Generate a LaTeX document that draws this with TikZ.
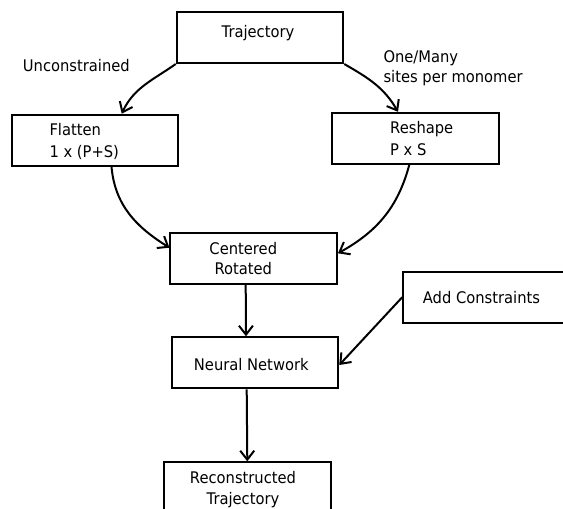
\documentclass[tikz,border=0pt]{standalone}
\usepackage{fontspec}
\setmainfont[FakeStretch=0.92]{DejaVu Sans}
\usetikzlibrary{arrows.meta}

\begin{document}
\begin{tikzpicture}[x=1pt,y=1pt,
  box/.style={draw, line width=2pt, minimum width=166.5pt, minimum height=51pt,
    inner sep=0pt, fill=white},
  txt/.style={font=\fontsize{16}{21}\selectfont, inner sep=0pt},
  link/.style={line width=2pt,
    -{Straight Barb[length=9pt,width=14pt,line width=2pt]}}]

% canvas
\useasboundingbox (0,0) rectangle (563,-509);
\fill[white] (0,0) rectangle (563,-509);
\clip (0,0) rectangle (563,-509);

% boxes
\node[box] (traj)  at (260,-37.5)   {};
\node[box] (flat)  at (95,-140.2)   {};
\node[box] (resh)  at (415.3,-138.3) {};
\node[box] (cent)  at (253.7,-258.7) {};
\node[box] (nn)    at (255,-362.8)  {};
\node[box] (addc)  at (486.5,-297.2) {};
\node[box] (recon) at (247.3,-487.8) {};

% box texts
\node[txt, anchor=base]      (trajT)  at (258,-37.7)   {Trajectory};
\node[txt, anchor=base west] (flatA)  at (49.3,-135.7) {Flatten};
\node[txt, anchor=base west] (flatB)  at (49.3,-157.3) {1 x (P+S)};
\node[txt, anchor=base west] (reshA)  at (390,-133.3)  {Reshape};
\node[txt, anchor=base west] (reshB)  at (390,-155)    {P x S};
\node[txt, anchor=base]      (centA)  at (243.3,-254)  {Centered};
\node[txt, anchor=base]      (centB)  at (243.3,-274.3) {Rotated};
\node[txt, anchor=base]      (nnT)    at (251.3,-370)  {Neural Network};
\node[txt, anchor=base west] (addcT)  at (422.7,-303.3) {Add Constraints};
\node[txt, anchor=base]      (reconA) at (243,-483.3)  {Reconstructed};
\node[txt, anchor=base]      (reconB) at (243,-504)    {Trajectory};

% branch labels
\node[txt, anchor=base west] (unc)   at (22.7,-71.7)  {Unconstrained};
\node[txt, anchor=base west] (manyA) at (383.3,-62.3) {One/Many};
\node[txt, anchor=base west] (manyB) at (383.3,-82.3) {sites per monomer};

% connectors
\draw[link] (traj.south west) to[out=215, in=65] ([xshift=26.7pt]flat.north);
\draw[link] (traj.south east) to[out=-30, in=120] ([xshift=-17.3pt]resh.north);
\draw[link] ([xshift=16.5pt]flat.south) to[out=-85, in=148] ([yshift=11pt]cent.west);
\draw[link] ([xshift=-6pt]resh.south) to[out=-105, in=29] ([yshift=5.4pt]cent.east);
\draw[link] ([xshift=-8pt]cent.south) -- ([xshift=-9pt]nn.north);
\draw[link] (addc.west) -- ([yshift=-2.2pt]nn.east);
\draw[link] ([xshift=-8.3pt]nn.south) -- (recon.north);
\end{tikzpicture}
\end{document}
